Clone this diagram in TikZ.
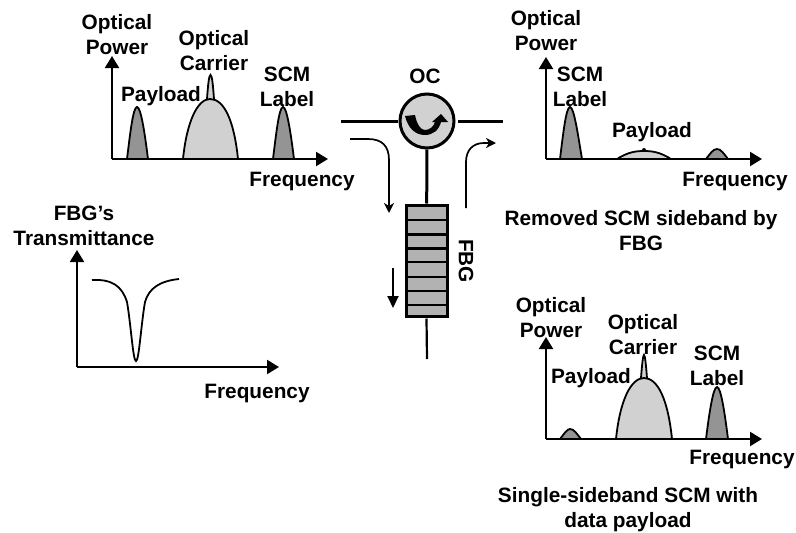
\documentclass[tikz,border=0pt]{standalone}
\usepackage{fontspec}
\setmainfont{Liberation Sans}
\usetikzlibrary{arrows.meta}
\tikzset{
    lbl/.style={inner sep=0pt, align=center, font=\fontsize{20.8}{25}\selectfont\bfseries},
    axis/.style={line width=2.2pt, -{Triangle[length=12pt,width=14pt]}},
    dark/.style={fill=black!42, draw=black, line width=1.8pt},
    light/.style={fill=black!18, draw=black, line width=1.8pt},
    fiber/.style={line width=3pt},
    flow/.style={line width=1.7pt, -{Stealth[length=10pt,width=10pt,inset=3pt]}}
}
\begin{document}
\begin{tikzpicture}[x=1pt, y=-1pt]
    \useasboundingbox (0,0) rectangle (796,533);
    % input spectrum
    \coordinate (o1) at (112,159);
    \coordinate (y1) at (112,56);
    \coordinate (x1) at (328,159);
    \draw[dark] (127,159) .. controls (130,135) and (133,107) .. (137,107) .. controls (141,107) and (145,135) .. (148,159);
    \draw[light] (207,99) .. controls (208,85) and (209,75) .. (210.5,75) .. controls (212,75) and (213,85) .. (214,99);
    \draw[light] (183,159) .. controls (187,120) and (198,99) .. (210,99) .. controls (224,99) and (234,120) .. (238,159);
    \draw[dark] (273,159) .. controls (276,135) and (279,107) .. (283,107) .. controls (287,107) and (291,135) .. (294,159);
    \draw[axis] (o1) -- (y1);
    \draw[axis] (o1) -- (x1);
    \node[lbl] (power1) at (117,35) {Optical\\Power};
    \node[lbl] (carrier1) at (214,51) {Optical\\Carrier};
    \node[lbl] (payload1) at (161,96.5) {Payload};
    \node[lbl] (scm1) at (287,87) {SCM\\Label};
    \node[lbl] (freq1) at (302,181.5) {Frequency};

    % output spectrum, sideband removed
    \coordinate (o2) at (546,159);
    \coordinate (y2) at (546,57);
    \coordinate (x2) at (762,159);
    \draw[dark] (560,159) .. controls (563,135) and (566,107) .. (570,107) .. controls (574,107) and (578,135) .. (582,159);
    \draw[light] (617,159) .. controls (628,152) and (636,151) .. (644,151) .. controls (652,151) and (660,152) .. (671,159);
    \fill (644,150) circle (2pt);
    \draw[dark] (706,159) .. controls (710,154) and (713,149) .. (717,149) .. controls (721,149) and (724,154) .. (728,159);
    \draw[axis] (o2) -- (y2);
    \draw[axis] (o2) -- (x2);
    \node[lbl] (power2) at (546,31) {Optical\\Power};
    \node[lbl] (scm2) at (580,87) {SCM\\Label};
    \node[lbl] (payload2) at (652,132.5) {Payload};
    \node[lbl] (freq2) at (735,181.5) {Frequency};
    \node[lbl] (removed) at (641,231) {Removed SCM sideband by\\FBG};

    % output spectrum, single sideband
    \coordinate (o3) at (546,439);
    \coordinate (y3) at (546,337);
    \coordinate (x3) at (762,439);
    \draw[dark] (560,439) .. controls (564,434) and (567,429) .. (570,429) .. controls (574,429) and (577,434) .. (581,439);
    \draw[light] (641,378) .. controls (642,365) and (643,355) .. (644,355) .. controls (645,355) and (646,365) .. (647,378);
    \draw[light] (616,439) .. controls (620,400) and (631,378) .. (644,378) .. controls (658,378) and (668,400) .. (672,439);
    \draw[dark] (706,439) .. controls (709,415) and (713,387) .. (717,387) .. controls (721,387) and (725,415) .. (728,439);
    \draw[axis] (o3) -- (y3);
    \draw[axis] (o3) -- (x3);
    \node[lbl] (power3) at (551,318) {Optical\\Power};
    \node[lbl] (carrier3) at (643,335) {Optical\\Carrier};
    \node[lbl] (payload3) at (591,378.5) {Payload};
    \node[lbl] (scm3) at (717,366) {SCM\\Label};
    \node[lbl] (freq3) at (742,459.5) {Frequency};
    \node[lbl] (single) at (628,510) {Single-sideband SCM with\\data payload};

    % transmittance
    \coordinate (o4) at (77,367);
    \coordinate (y4) at (77,250);
    \coordinate (x4) at (279,367);
    \draw[line width=1.8pt] (92,280) .. controls (112,279) and (122,286) .. (127,302) .. controls (131,325) and (133,361) .. (136,361) .. controls (139,361) and (141,325) .. (145,302) .. controls (149,288) and (160,281) .. (179,279);
    \draw[axis] (o4) -- (y4);
    \draw[axis] (o4) -- (x4);
    \node[lbl] (fbgs) at (84,226) {FBG's\\Transmittance};
    \node[lbl] (freq4) at (257,393) {Frequency};

    % circulator and grating
    \node[circle, draw, fill=black!18, line width=3pt, minimum size=54pt, inner sep=0pt] (oc) at (427,121) {};
    \node[lbl] (oclbl) at (425,76) {OC};
    \coordinate (inl) at (341,121);
    \coordinate (inr) at (398,121);
    \coordinate (outl) at (458,121);
    \coordinate (outr) at (503,121);
    \draw[fiber] (inl) -- (inr);
    \draw[fiber] (outl) -- (outr);
    \fill (405,116) -- (415,115) .. controls (417,125) and (421,130) .. (425,130) .. controls (430,130) and (434,126) .. (435,122) -- (432,122) -- (441,114) -- (448,122) -- (441,122) .. controls (439,130) and (433,135) .. (425,135) .. controls (415,135) and (408,128) .. (405,116) -- cycle;
    \node[draw, fill=black!30, line width=3pt, minimum width=41pt, minimum height=111pt, inner sep=0pt] (fbg) at (426.5,260.5) {};
    \foreach \yy in {220,234.5,248.5,262,277,291,305} {
        \draw[line width=2.4pt] (405,\yy) -- (448,\yy);
    }
    \draw[fiber] (oc) -- (fbg);
    \coordinate (tail) at (427,359);
    \draw[line width=2.2pt] (fbg) ++(0,58) -- (tail);
    \node[lbl, rotate=-90] (fbglbl) at (466,261) {FBG};
    \coordinate (a1) at (350,139);
    \coordinate (a2) at (389,213);
    \coordinate (b1) at (466,208);
    \coordinate (b2) at (496,143);
    \coordinate (c1) at (393,268);
    \coordinate (c2) at (393,308);
    \draw[flow] (a1) -- (368,139) .. controls (382,139) and (389,146) .. (389,160) -- (a2);
    \draw[flow] (b1) -- (466,162) .. controls (466,150) and (473,143) .. (484,143) -- (b2);
    \draw[line width=2pt, -{Triangle[length=12pt,width=11pt]}] (c1) -- (c2);
\end{tikzpicture}
\end{document}
